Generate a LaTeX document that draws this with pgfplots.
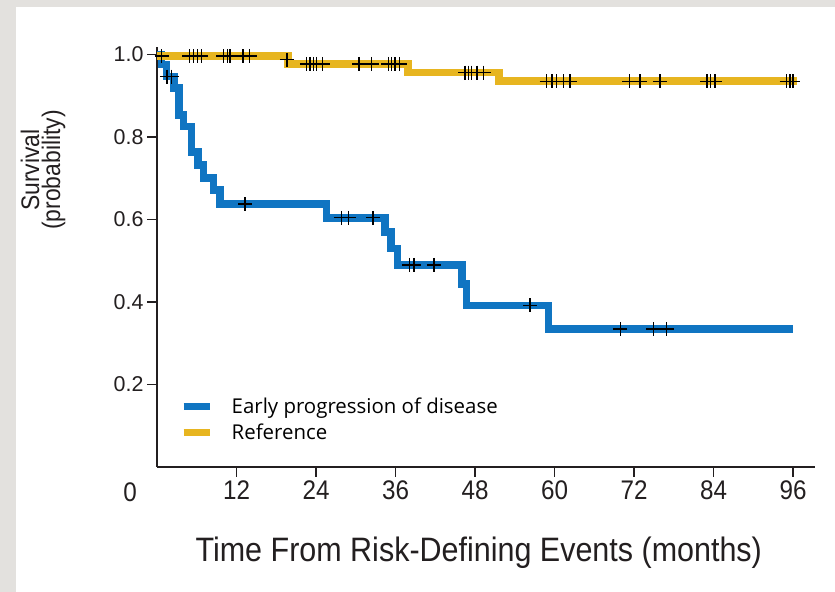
\documentclass[border=0pt]{standalone}
\usepackage{pgfplots}
\pgfplotsset{compat=1.18}
\usepackage{pgfplotstable}
\usepackage{fontspec}
\setmainfont{Liberation Sans}
\newfontfamily\condfont{Liberation Sans}[FakeStretch=0.9]
\newfontfamily\legfont{Open Sans}
\definecolor{kmblue}{RGB}{16,117,194}
\definecolor{kmgold}{RGB}{231,181,32}
\definecolor{bggray}{RGB}{227,225,222}
\definecolor{axisblack}{RGB}{35,31,32}

% Early progression of disease: Kaplan-Meier steps (month, survival)
\pgfplotstableread{
m p
0    0.999
0.7  0.975
1.4  0.946
2.6  0.918
3.3  0.853
4.0  0.825
5.2  0.764
6.2  0.732
7.0  0.700
8.5  0.671
9.5  0.637
25.6 0.604
34.4 0.570
35.3 0.530
36.3 0.490
46.0 0.443
46.7 0.392
59.1 0.334
96.0 0.334
}\earlytab

% Reference group: Kaplan-Meier steps
\pgfplotstableread{
m p
0    0.996
19.8 0.977
37.9 0.956
51.6 0.935
96.6 0.935
}\reftab

% Censored observations, early progression
\pgfplotstableread{
m p
1.5  0.946
2.2  0.946
13.3 0.637
27.8 0.604
28.9 0.604
32.6 0.604
38.1 0.490
38.8 0.490
41.8 0.490
56.3 0.392
69.9 0.334
74.9 0.334
76.9 0.334
}\earlycens

% Censored observations, reference
\pgfplotstableread{
m p
0.7  0.996
4.9  0.996
5.5  0.996
6.1  0.996
6.7  0.996
10.0 0.996
10.6 0.996
11.0 0.996
13.0 0.996
14.0 0.996
19.6 0.987
22.6 0.977
23.1 0.977
23.6 0.977
24.1 0.977
25.0 0.977
30.5 0.977
32.4 0.977
34.9 0.977
35.4 0.977
35.9 0.977
36.6 0.977
46.5 0.956
47.0 0.956
47.5 0.956
48.3 0.956
49.3 0.956
58.8 0.935
59.6 0.935
60.3 0.935
61.3 0.935
62.3 0.935
71.3 0.935
72.9 0.935
75.9 0.935
83.0 0.935
83.5 0.935
84.2 0.935
95.0 0.935
95.5 0.935
96.0 0.935
}\refcens

\begin{document}
\begin{tikzpicture}[x=1bp,y=1bp]
\useasboundingbox (0,0) rectangle (835,592);
\fill[bggray] (0,0) rectangle (835,592);
\fill[white] (16,0) rectangle (835,585);
\begin{axis}[
  at={(157bp,125bp)}, anchor=south west,
  scale only axis, width=658bp, height=420bp,
  xmin=0, xmax=99.3, ymin=0, ymax=1.018,
  axis x line*=bottom, axis y line*=left,
  axis line style={line width=2.2bp, axisblack},
  tick align=outside, major tick length=10bp,
  tick style={line width=1.4bp, axisblack},
  xtick={12,24,36,48,60,72,84,96},
  ytick={0.2,0.4,0.6,0.8,1.0},
  /pgf/number format/assume math mode=true,
  yticklabel style={/pgf/number format/fixed, /pgf/number format/fixed zerofill,
    /pgf/number format/precision=1, font=\fontsize{21.5}{21.5}\selectfont, text=axisblack},
  xticklabel style={font=\condfont\fontsize{27}{27}\selectfont, text=axisblack},
  xlabel={Time From Risk-Defining Events (months)},
  xlabel style={font=\condfont\fontsize{34}{34}\selectfont, text=axisblack,
    at={(rel axis cs:0.489,0)}, anchor=center, yshift=-86bp},
  ylabel={Survival\\(probability)},
  ylabel style={align=center, font=\condfont\fontsize{25.5}{21}\selectfont, text=axisblack,
    at={(rel axis cs:-0.1733,0.707)}, anchor=center},
  clip=false,
  legend cell align=left,
  legend image code/.code={\draw[#1, line width=7bp, line cap=butt] (0bp,0bp) -- (26bp,0bp); \path[draw=none] (0bp,0bp) -- (46bp,0bp);},
  legend style={draw=none, fill=none, at={(rel axis cs:0.035,0.17)}, anchor=north west,
    font=\legfont\fontsize{20.5}{20.5}\selectfont, row sep=5bp, inner sep=0pt},
]
\addplot[const plot, kmblue, line width=7.5bp, line join=miter] table[x=m,y=p] {\earlytab};
\addlegendentry{Early progression of disease}
\addplot[const plot, kmgold, line width=7.5bp, line join=miter] table[x=m,y=p] {\reftab};
\addlegendentry{Reference}
\addplot[only marks, mark=+, mark size=7bp, black, mark options={line width=1.4bp}, forget plot] table[x=m,y=p] {\earlycens};
\addplot[only marks, mark=+, mark size=7bp, black, mark options={line width=1.4bp}, forget plot] table[x=m,y=p] {\refcens};
\node[font=\condfont\fontsize{27}{27}\selectfont, text=axisblack, xshift=-27bp, yshift=-25bp] at (axis cs:0,0) {0};
\end{axis}
\end{tikzpicture}
\end{document}
